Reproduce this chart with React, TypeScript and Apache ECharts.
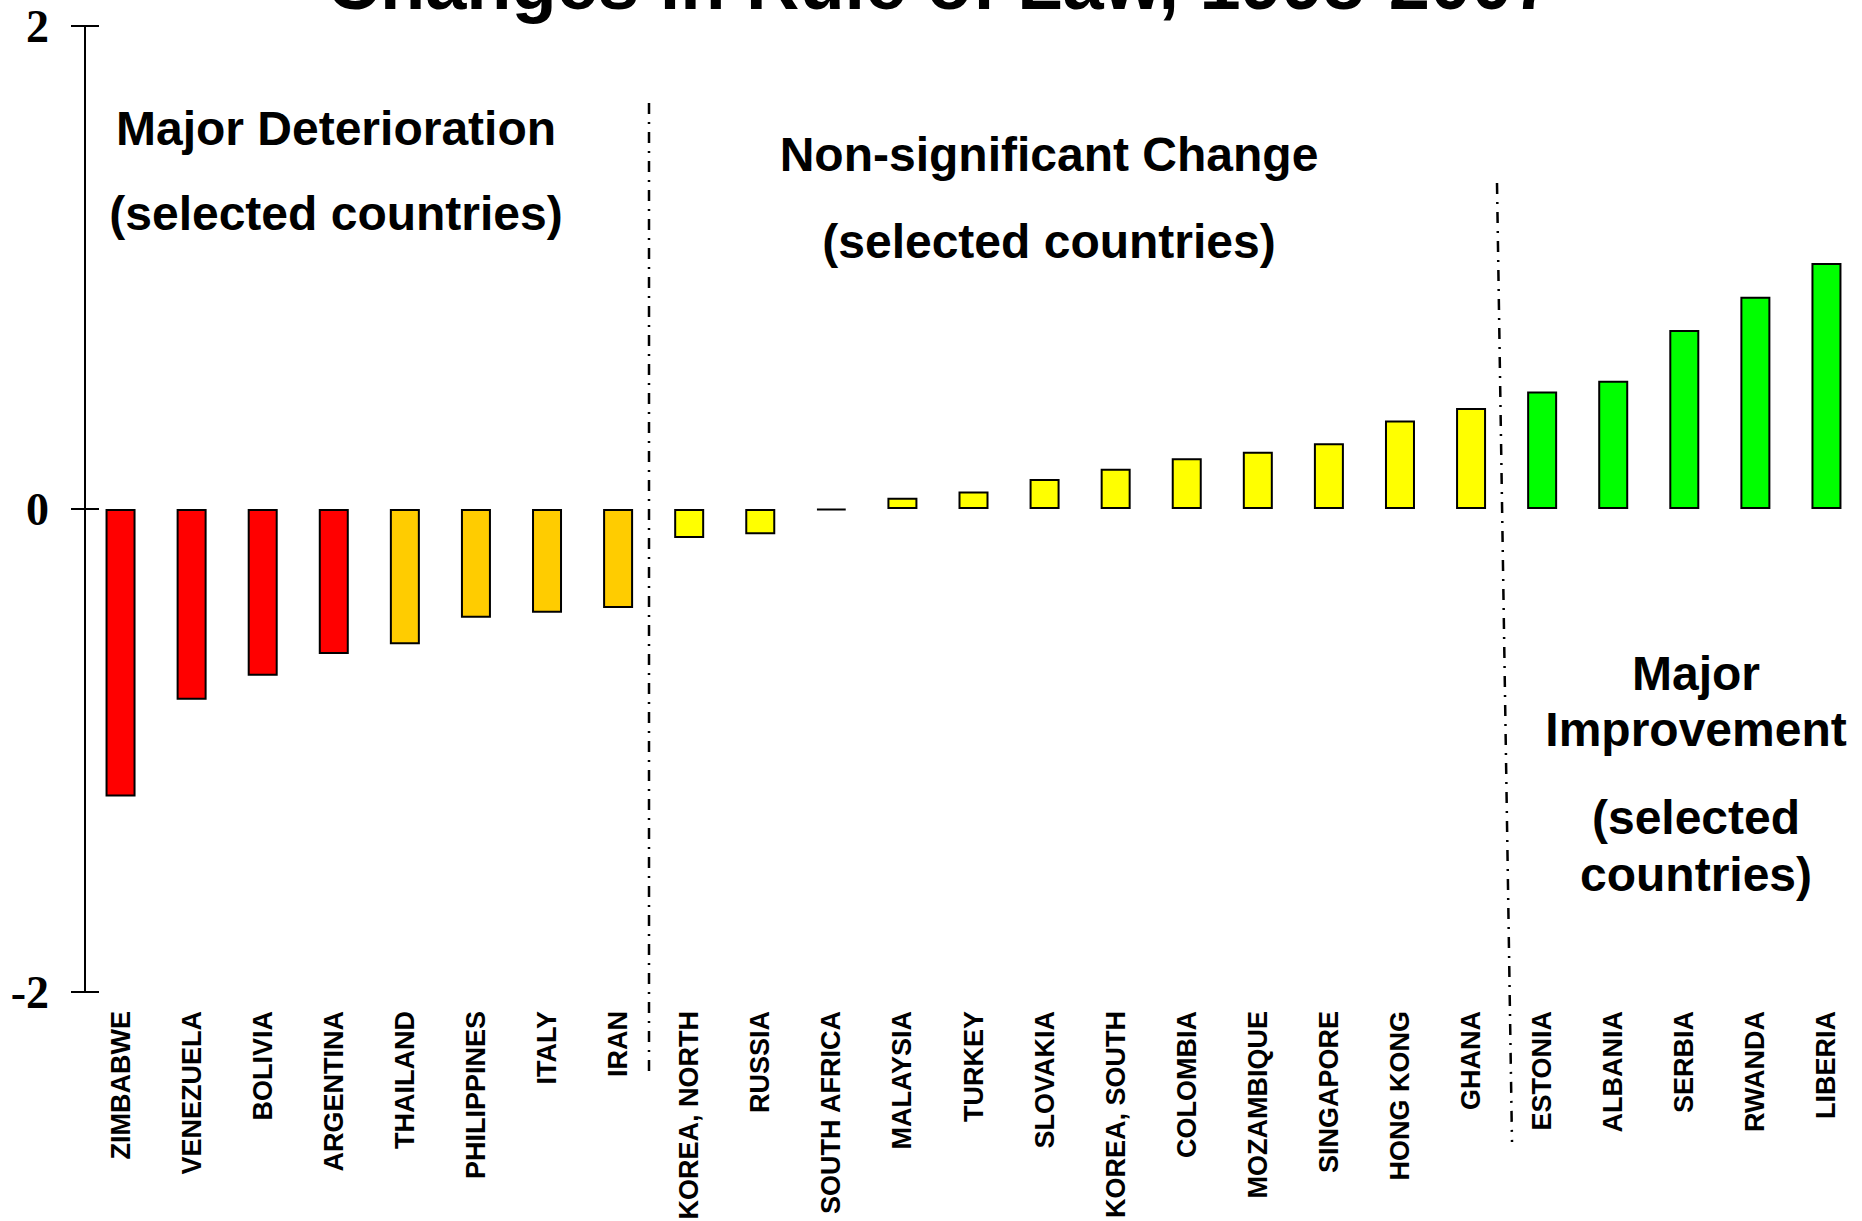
import React, { useEffect, useRef } from "react";
import * as echarts from "echarts";

const categories = [
  "ZIMBABWE", "VENEZUELA", "BOLIVIA", "ARGENTINA", "THAILAND", "PHILIPPINES", "ITALY", "IRAN",
  "KOREA, NORTH", "RUSSIA", "SOUTH AFRICA", "MALAYSIA", "TURKEY", "SLOVAKIA", "KOREA, SOUTH",
  "COLOMBIA", "MOZAMBIQUE", "SINGAPORE", "HONG KONG", "GHANA",
  "ESTONIA", "ALBANIA", "SERBIA", "RWANDA", "LIBERIA",
];

const changeValues = [
  -1.19, -0.79, -0.69, -0.6, -0.56, -0.45, -0.43, -0.41,
  -0.12, -0.105, -0.005, 0.047, 0.072, 0.124, 0.167,
  0.21, 0.237, 0.272, 0.366, 0.418,
  0.487, 0.531, 0.741, 0.879, 1.019,
];

// tier of each country: used to pick its colour
const tiers = [
  "severe", "severe", "severe", "severe", "moderate", "moderate", "moderate", "moderate",
  "flat", "flat", "flat", "flat", "flat", "flat", "flat",
  "flat", "flat", "flat", "flat", "flat",
  "improve", "improve", "improve", "improve", "improve",
];

const yTicks = [-2, 0, 2];

const titleText = "Changes in Rule of Law, 1998-2007";

const tierColors: Record<string, string> = {
  severe: "#FF0000",
  moderate: "#FFCC00",
  flat: "#FFFF00",
  improve: "#00FF00",
};

const SANS = "'Liberation Sans', Arial, sans-serif";
const SERIF = "'Liberation Serif', 'Times New Roman', serif";

export default function App() {
  const ref = useRef<HTMLDivElement>(null);

  useEffect(() => {
    document.body.style.margin = "0";
    if (!ref.current) return;
    const chart = echarts.init(ref.current, null, { renderer: "svg" });

    const annText = (text: string, x: number, y: number, size = 48) => ({
      type: "text",
      x,
      y,
      style: {
        text,
        fill: "#000",
        font: `bold ${size}px ${SANS}`,
        textAlign: "center",
        textVerticalAlign: "middle",
        verticalAlign: "middle",
      },
      z: 10,
    });

    const dashLine = (x1: number, y1: number, x2: number, y2: number) => ({
      type: "line",
      shape: { x1, y1, x2, y2 },
      style: { stroke: "#000", lineWidth: 2.5, lineDash: [11, 8, 2, 8] },
      z: 10,
    });

    const yMin = yTicks[0];
    const yMax = yTicks[yTicks.length - 1];
    const yInterval = yTicks[1] - yTicks[0];

    chart.setOption({
      animation: false,
      backgroundColor: "#fff",
      grid: {
        left: 85,
        right: 0,
        top: 26,
        bottom: 229,
        containLabel: false,
        outerBoundsMode: "none",
      },
      xAxis: {
        type: "category",
        data: categories,
        position: "bottom",
        axisLine: { show: false },
        axisTick: { show: false },
        splitLine: { show: false },
        axisLabel: {
          interval: 0,
          rotate: 90,
          margin: 19,
          color: "#000",
          fontFamily: SANS,
          fontWeight: "bold",
          fontSize: 27,
        },
      },
      yAxis: [
        {
          type: "value",
          min: yMin,
          max: yMax,
          interval: yInterval,
          position: "left",
          axisLine: { show: true, onZero: false, lineStyle: { color: "#000", width: 2 } },
          axisTick: { show: true, inside: false, length: 14, lineStyle: { color: "#000", width: 2 } },
          splitLine: { show: false },
          axisLabel: {
            margin: 36,
            color: "#000",
            fontFamily: SERIF,
            fontWeight: "bold",
            fontSize: 46,
            formatter: (v: number) => (v < 0 ? "-" + Math.abs(v) : String(v)),
          },
        },
        {
          type: "value",
          min: yMin,
          max: yMax,
          interval: yInterval,
          position: "left",
          axisLine: { show: false },
          axisTick: { show: true, inside: true, length: 14, lineStyle: { color: "#000", width: 2 } },
          splitLine: { show: false },
          axisLabel: { show: false },
        },
      ],
      series: [
        {
          type: "bar",
          yAxisIndex: 0,
          barWidth: 30,
          data: changeValues.map((v, i) => ({
            value: v,
            itemStyle: { color: tierColors[tiers[i]] },
          })),
          itemStyle: { borderColor: "#000", borderWidth: 2 },
        },
      ],
      graphic: [
        {
          type: "text",
          x: 940,
          y: -17,
          style: {
            text: titleText,
            fill: "#000",
            font: `bold 74px ${SANS}`,
            textAlign: "center",
            textVerticalAlign: "middle",
            verticalAlign: "middle",
          },
          z: 10,
        },
        annText("Major Deterioration", 336, 128),
        annText("(selected countries)", 336, 213),
        annText("Non-significant Change", 1049, 154),
        annText("(selected countries)", 1049, 241),
        annText("Major", 1696, 673),
        annText("Improvement", 1696, 729),
        annText("(selected", 1696, 817),
        annText("countries)", 1696, 874),
        dashLine(649, 103, 649, 1078),
        dashLine(1497, 183, 1512, 1142),
      ],
    });

    return () => chart.dispose();
  }, []);

  return <div ref={ref} style={{ width: 1862, height: 1221 }} />;
}
